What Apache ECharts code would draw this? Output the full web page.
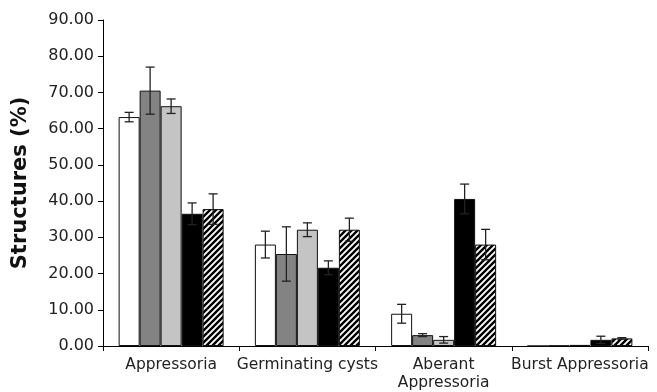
<!DOCTYPE html>
<html>
<head>
<meta charset="utf-8">
<script src="https://cdn.jsdelivr.net/npm/echarts@6/dist/echarts.min.js"></script>
<style>html,body{margin:0;padding:0;background:#fff}#c{width:657px;height:392px}</style>
</head>
<body>
<div id="c"></div>
<script>
var categories = ['Appressoria', 'Germinating cysts', 'Aberant\nAppressoria', 'Burst Appressoria'];
var yTicks = [0, 10, 20, 30, 40, 50, 60, 70, 80, 90];
var s1 = [63.2, 28.0, 8.9, 0.0];
var s2 = [70.5, 25.4, 3.0, 0.1];
var s3 = [66.2, 32.1, 1.7, 0.3];
var s4 = [36.5, 21.6, 40.6, 1.7];
var s5 = [37.8, 32.1, 28.0, 2.1];
var e1 = [1.3, 3.7, 2.6, 0.0];
var e2 = [6.5, 7.5, 0.4, 0.0];
var e3 = [2.0, 1.9, 0.9, 0.0];
var e4 = [3.0, 1.9, 4.1, 1.0];
var e5 = [4.2, 3.2, 4.2, 0.2];

var BW = 21;
var pc = document.createElement('canvas');
pc.width = 6; pc.height = 6;
var g = pc.getContext('2d');
g.fillStyle = '#fff'; g.fillRect(0, 0, 6, 6);
g.strokeStyle = '#000'; g.lineWidth = 2.4;
g.beginPath();
g.moveTo(-1, 7); g.lineTo(7, -1);
g.moveTo(-1, 1); g.lineTo(1, -1);
g.moveTo(5, 7); g.lineTo(7, 5);
g.stroke();

var vals = [s1, s2, s3, s4, s5];
var errs = [e1, e2, e3, e4, e5];
var colors = ['#ffffff', '#838383', '#c4c4c4', '#000000', {image: pc, repeat: 'repeat'}];

var series = [];
vals.forEach(function (v, i) {
  series.push({
    type: 'bar', data: v, barWidth: BW, barGap: '0%',
    itemStyle: {color: colors[i], borderColor: '#111', borderWidth: 1},
    silent: true, animation: false
  });
});
vals.forEach(function (v, i) {
  var data = v.map(function (y, k) { return [k, y, errs[i][k]]; });
  series.push({
    type: 'custom', data: data, animation: false, silent: true, z: 10,
    renderItem: function (params, api) {
      var k = api.value(0), y = api.value(1), e = api.value(2);
      if (!e) return null;
      var hi = api.coord([k, y + e]);
      var lo = api.coord([k, Math.max(0, y - e)]);
      var x = hi[0] + (i - 2) * BW;
      var st = {stroke: '#222', lineWidth: 1.3};
      return {type: 'group', children: [
        {type: 'line', shape: {x1: x, y1: hi[1], x2: x, y2: lo[1]}, style: st},
        {type: 'line', shape: {x1: x - 4.5, y1: hi[1], x2: x + 4.5, y2: hi[1]}, style: st},
        {type: 'line', shape: {x1: x - 4.5, y1: lo[1], x2: x + 4.5, y2: lo[1]}, style: st}
      ]};
    }
  });
});

var chart = echarts.init(document.getElementById('c'), null, {renderer: 'canvas'});
chart.setOption({
  animation: false,
  grid: {left: 103, right: 9, top: 20, bottom: 45},
  xAxis: {
    type: 'category', data: categories,
    axisLine: {lineStyle: {color: '#000', width: 1}},
    axisTick: {show: true, length: 5, lineStyle: {color: '#000'}},
    axisLabel: {interval: 0, color: '#222', fontFamily: 'DejaVu Sans', fontSize: 15.5, lineHeight: 18, margin: 10}
  },
  yAxis: {
    type: 'value', min: yTicks[0], max: yTicks[yTicks.length - 1], interval: 10,
    name: 'Structures (%)', nameLocation: 'middle', nameGap: 72,
    nameTextStyle: {fontFamily: 'DejaVu Sans', fontWeight: 'bold', fontSize: 21, color: '#111'},
    axisLine: {show: true, lineStyle: {color: '#000', width: 1}},
    axisTick: {show: true, length: 5, lineStyle: {color: '#000'}},
    splitLine: {show: false},
    axisLabel: {color: '#222', fontFamily: 'DejaVu Sans', fontSize: 16, margin: 9,
      formatter: function (v) { return v.toFixed(2); }}
  },
  series: series
});
</script>
</body>
</html>
